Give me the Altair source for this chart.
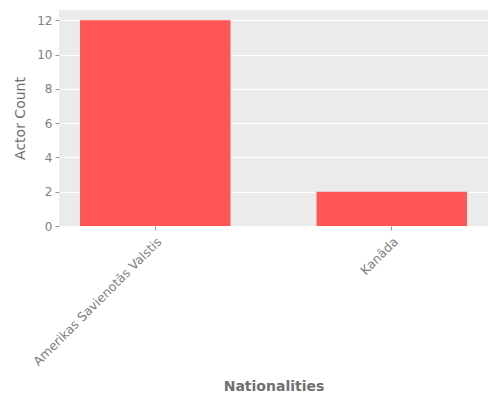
import altair as alt
import pandas as pd

nationalities = ["Amerikas Savienotās Valstis", "Kanāda"]
counts = [12, 2]

df = pd.DataFrame({"Nationalities": nationalities, "Actor Count": counts})

chart = alt.Chart(df).mark_bar(color="#FF5555").encode(
    x=alt.X("Nationalities:N", sort=nationalities,
            scale=alt.Scale(paddingInner=0.364, paddingOuter=0.089),
            axis=alt.Axis(labelAngle=-45, labelAlign="right", labelBaseline="top",
                          labelColor="#808080", labelFontSize=12.5, labelFont="DejaVu Sans",
                          tickColor="#999999", tickSize=4, domain=False, grid=False,
                          labelLimit=300,
                          title="Nationalities", titleColor="#707070", titleFontSize=14,
                          titleFont="DejaVu Sans", titleFontWeight="bold",
                          titleBaseline="middle", titleY=160,
                          labelPadding=5)),
    y=alt.Y("Actor Count:Q", scale=alt.Scale(domain=[0, 12.6], nice=False),
            axis=alt.Axis(values=[0, 2, 4, 6, 8, 10, 12], labelColor="#808080",
                          labelFontSize=12, labelFont="DejaVu Sans",
                          tickColor="#999999", tickSize=4, domain=False,
                          gridColor="white", gridWidth=1,
                          title="Actor Count", titleColor="#707070", titleFontSize=14,
                          titleFont="DejaVu Sans", titleFontWeight="normal", titleX=-32,
                          labelPadding=3)),
).properties(
    width=429, height=216,
    autosize=alt.AutoSizeParams(type="none"),
    padding={"left": 51, "top": 2, "right": 4, "bottom": 166},
).configure_view(fill="#EBEBEB", stroke=None)

chart.save("out.html", embed_options={"renderer": "svg", "actions": False})
